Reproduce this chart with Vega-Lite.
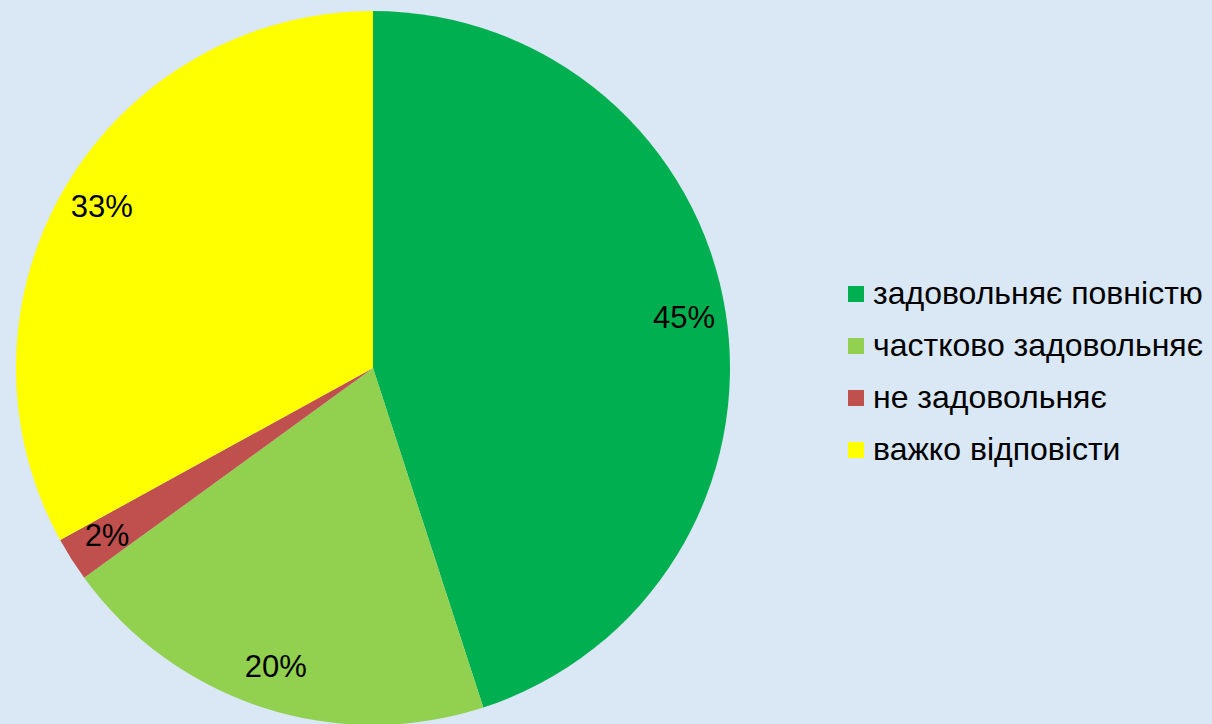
{
  "$schema": "https://vega.github.io/schema/vega-lite/v6.json",
  "width": 746,
  "height": 712,
  "autosize": {"type": "none"},
  "padding": {"left": 0, "top": 12, "right": 466, "bottom": 0},
  "background": "#dae7f5",
  "data": {
    "values": [
      {"category": "задовольняє повністю", "value": 45, "label": "45%", "order": 1},
      {"category": "частково задовольняє", "value": 20, "label": "20%", "order": 2},
      {"category": "не задовольняє", "value": 2, "label": "2%", "order": 3},
      {"category": "важко відповісти", "value": 33, "label": "33%", "order": 4}
    ]
  },
  "encoding": {
    "theta": {"field": "value", "type": "quantitative", "stack": true},
    "order": {"field": "order", "type": "quantitative"}
  },
  "layer": [
    {
      "mark": {"type": "arc", "outerRadius": 357, "stroke": null},
      "encoding": {
        "color": {
          "field": "category",
          "type": "nominal",
          "sort": null,
          "scale": {
            "domain": ["задовольняє повністю", "частково задовольняє", "не задовольняє", "важко відповісти"],
            "range": ["#00b050", "#92d050", "#c0504d", "#ffff00"]
          },
          "legend": {
            "title": null,
            "orient": "none",
            "legendX": 840,
            "legendY": 266,
            "padding": 0,
            "symbolType": "square",
            "symbolSize": 256,
            "symbolStrokeWidth": 0,
            "labelFont": "Liberation Sans",
            "labelFontSize": 32,
            "labelColor": "#000000",
            "labelOffset": 1,
            "labelLimit": 500,
            "rowPadding": 20
          }
        }
      }
    },
    {
      "mark": {"type": "text", "radius": 315, "font": "Liberation Sans", "fontSize": 31, "color": "#000000"},
      "encoding": {"text": {"field": "label", "type": "nominal"}}
    }
  ],
  "config": {"view": {"stroke": null}}
}
